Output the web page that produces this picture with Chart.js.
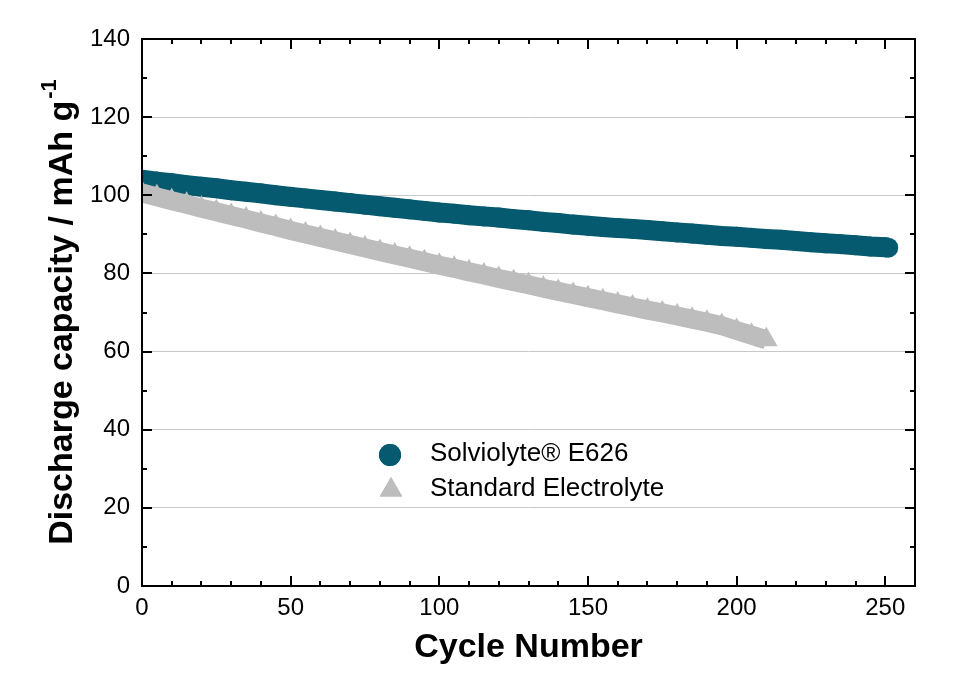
<!DOCTYPE html>
<html><head><meta charset="utf-8">
<script src="https://cdn.jsdelivr.net/npm/chart.js@4.4.1/dist/chart.umd.min.js"></script>
<style>html,body{margin:0;padding:0;background:#fff}#wrap{width:963px;height:700px}</style>
</head><body><div id="wrap"><canvas id="c" width="963" height="700"></canvas></div>
<script>
const seriesLabels = ['Solviolyte® E626', 'Standard Electrolyte'];
const cyclesE626 = [0,5,10,15,20,25,30,35,40,45,50,55,60,65,70,75,80,85,90,95,100,105,110,115,120,125,130,135,140,145,150,155,160,165,170,175,180,185,190,195,200,205,210,215,220,225,230,235,240,245,250,251];
const capE626 = [104.0,103.5,103.1,102.6,102.2,101.8,101.3,100.9,100.5,100.0,99.6,99.2,98.8,98.4,98.0,97.6,97.2,96.8,96.4,96.0,95.6,95.3,94.9,94.6,94.3,93.9,93.6,93.2,92.9,92.5,92.2,91.9,91.6,91.4,91.1,90.8,90.5,90.2,89.9,89.6,89.4,89.1,88.8,88.6,88.3,88.0,87.7,87.5,87.2,86.9,86.7,86.6];
const cyclesStd = [0,5,10,15,20,25,30,35,40,45,50,55,60,65,70,75,80,85,90,95,100,105,110,115,120,125,130,135,140,145,150,155,160,165,170,175,180,185,190,195,200,205,210];
const capStd = [100.6,99.6,98.6,97.7,96.7,95.8,94.8,93.9,92.9,92.0,91.0,90.1,89.2,88.3,87.4,86.5,85.6,84.7,83.9,83.0,82.1,81.3,80.4,79.6,78.7,77.9,77.1,76.2,75.4,74.6,73.8,73.0,72.2,71.4,70.6,69.9,69.1,68.3,67.5,66.6,65.4,64.2,63.0];
const xTicks = [0,50,100,150,200,250];
const xMinorTicks = [10,20,30,40,60,70,80,90,110,120,130,140,160,170,180,190,210,220,230,240];
const yTicks = [0,20,40,60,80,100,120,140];
const yMinorTicks = [10,30,50,70,90,110,130];

const TEAL = '#055a6f';
const GRAY = '#bdbdbd';
const FONT = "'Liberation Sans', Arial, sans-serif";

const framePlugin = {
  id: 'frame',
  afterDraw(chart) {
    const ctx = chart.ctx;
    const a = chart.chartArea;
    const xs = chart.scales.x, ys = chart.scales.y;
    ctx.save();
    ctx.strokeStyle = '#000';
    ctx.lineWidth = 2;
    ctx.strokeRect(a.left, a.top, a.right - a.left, a.bottom - a.top);
    ctx.beginPath();
    const xt = (v, len) => {
      const p = Math.round(xs.getPixelForValue(v));
      ctx.moveTo(p, a.bottom); ctx.lineTo(p, a.bottom - len);
      ctx.moveTo(p, a.top); ctx.lineTo(p, a.top + len);
    };
    const yt = (v, len) => {
      const p = Math.round(ys.getPixelForValue(v));
      ctx.moveTo(a.left, p); ctx.lineTo(a.left + len, p);
      ctx.moveTo(a.right, p); ctx.lineTo(a.right - len, p);
    };
    xTicks.forEach(v => xt(v, 10));
    xMinorTicks.forEach(v => xt(v, 5));
    yTicks.forEach(v => yt(v, 10));
    yMinorTicks.forEach(v => yt(v, 5));
    ctx.stroke();

    // y-axis title with superscript
    ctx.fillStyle = '#000';
    ctx.translate(72, 0);
    ctx.rotate(-Math.PI / 2);
    ctx.font = "bold 34px " + FONT;
    ctx.textBaseline = 'alphabetic';
    const main = 'Discharge capacity / mAh g';
    const sup = '-1';
    const mw = ctx.measureText(main).width;
    ctx.font = "bold 22px " + FONT;
    const sw = ctx.measureText(sup).width;
    const total = mw + sw + 2;
    const cy = 312;
    const start = -(cy + total / 2);
    ctx.font = "bold 34px " + FONT;
    ctx.textAlign = 'left';
    ctx.fillText(main, start, 0);
    ctx.font = "bold 22px " + FONT;
    ctx.fillText(sup, start + mw + 2, -16);
    ctx.restore();

    // legend
    ctx.save();
    const items = [
      {label: seriesLabels[0], style: 'circle', color: TEAL, r: 11, x: 390, y: 455},
      {label: seriesLabels[1], style: 'triangle', color: GRAY, r: 13, x: 391, y: 490}
    ];
    items.forEach(it => {
      ctx.fillStyle = it.color;
      ctx.strokeStyle = it.color;
      ctx.lineWidth = 0;
      Chart.helpers.drawPoint(ctx, {pointStyle: it.style, radius: it.r, rotation: 0, borderWidth: 0}, it.x, it.y);
      ctx.fill();
      ctx.fillStyle = '#000';
      ctx.font = "26px " + FONT;
      ctx.textBaseline = 'middle';
      ctx.textAlign = 'left';
      ctx.fillText(it.label, 430, it.y - 1);
    });
    ctx.restore();
  }
};

new Chart(document.getElementById('c'), {
  type: 'scatter',
  data: {
    datasets: [
      {
        label: seriesLabels[1],
        data: cyclesStd.map((c, i) => ({x: c, y: capStd[i]})),
        showLine: true,
        borderColor: GRAY,
        borderWidth: 19,
        backgroundColor: GRAY,
        pointStyle: 'triangle',
        pointRadius: 13,
        pointBorderWidth: 0,
        pointHoverRadius: 13,
        order: 0,
        clip: 0
      },
      {
        label: seriesLabels[0],
        data: cyclesE626.map((c, i) => ({x: c, y: capE626[i]})),
        showLine: true,
        borderColor: TEAL,
        borderWidth: 20,
        backgroundColor: TEAL,
        pointStyle: 'circle',
        pointRadius: 10,
        pointBorderWidth: 0,
        pointHoverRadius: 10,
        order: 1,
        clip: 0
      }
    ]
  },
  options: {
    responsive: false,
    animation: false,
    devicePixelRatio: 1,
    layout: {padding: {top: 39, right: 48, left: 0, bottom: 0}},
    plugins: {legend: {display: false}, tooltip: {enabled: false}},
    scales: {
      x: {
        type: 'linear', min: 0, max: 260,
        afterBuildTicks: s => { s.ticks = xTicks.map(v => ({value: v})); },
        afterFit: s => { s.height = 114; },
        grid: {display: false, drawTicks: false},
        border: {display: false},
        ticks: {color: '#000', font: {family: FONT, size: 24}, padding: 8, maxRotation: 0},
        title: {display: true, text: 'Cycle Number', color: '#000', font: {family: FONT, size: 34, weight: 'bold'}, padding: {top: 0, bottom: 32}}
      },
      y: {
        type: 'linear', min: 0, max: 140,
        afterBuildTicks: s => { s.ticks = yTicks.map(v => ({value: v})); },
        afterFit: s => { s.width = 142; },
        grid: {drawTicks: false, lineWidth: 1, color: c => (c.tick && c.tick.value > 0 && c.tick.value < 140) ? '#c8c8c8' : 'rgba(0,0,0,0)'},
        border: {display: false},
        ticks: {color: '#000', font: {family: FONT, size: 24}, padding: 12}
      }
    }
  },
  plugins: [framePlugin]
});
</script>
</body></html>
